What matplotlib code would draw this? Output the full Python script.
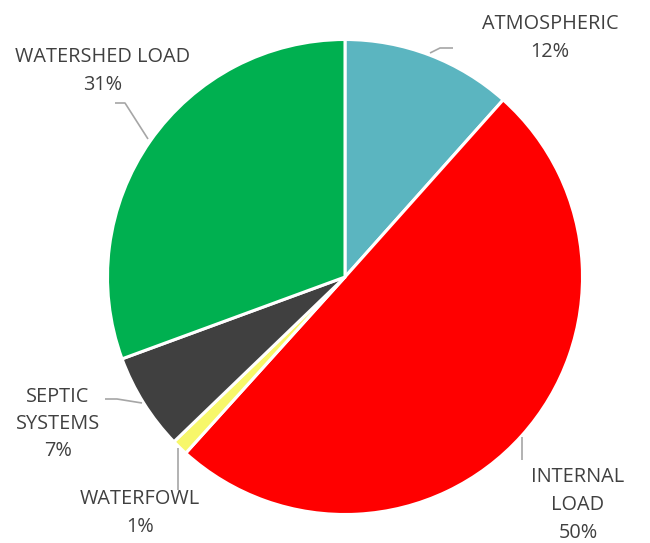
import matplotlib
matplotlib.use("Agg")
import matplotlib.pyplot as plt

W, H = 650, 543

sources = ["ATMOSPHERIC", "INTERNAL\nLOAD", "WATERFOWL", "SEPTIC\nSYSTEMS", "WATERSHED LOAD"]
shares = [11.6, 50.1, 1.1, 6.6, 30.6]
colors = ["#5BB5C0", "#FF0000", "#F7F76A", "#404040", "#00B050"]

# label anchor (pixel, y from top) and leader line points for each slice
label_xy = [(550, 38), (578, 505), (140, 513), (58, 424), (103, 71)]
leaders = [
    [(430, 53), (440, 48), (453, 48)],
    [(522, 437), (522, 460)],
    [(178, 448), (178, 490)],
    [(142, 403), (117, 399), (105, 399)],
    [(148, 139), (125, 103), (115, 103)],
]

plt.rcParams["font.family"] = ["Open Sans", "DejaVu Sans"]

fig = plt.figure(figsize=(W / 100, H / 100), dpi=100)
ax = fig.add_axes([0, 0, 1, 1])
ax.set_xlim(0, W)
ax.set_ylim(0, H)
ax.set_aspect("equal")
ax.axis("off")

ax.pie(shares, colors=colors, startangle=90, counterclock=False,
       center=(345, H - 277), radius=237.5,
       wedgeprops=dict(edgecolor="white", linewidth=2.2))
ax.set_xlim(0, W)
ax.set_ylim(0, H)

for name, val, (x, y), pts in zip(sources, shares, label_xy, leaders):
    ax.text(x, H - y, f"{name}\n{val:.0f}%", ha="center", va="center",
            fontsize=14.3, color="#404040", linespacing=1.5)
    xs = [p[0] for p in pts]
    ys = [H - p[1] for p in pts]
    ax.plot(xs, ys, color="#A6A6A6", lw=1.2, solid_capstyle="butt")

fig.savefig("out.png", dpi=100)
